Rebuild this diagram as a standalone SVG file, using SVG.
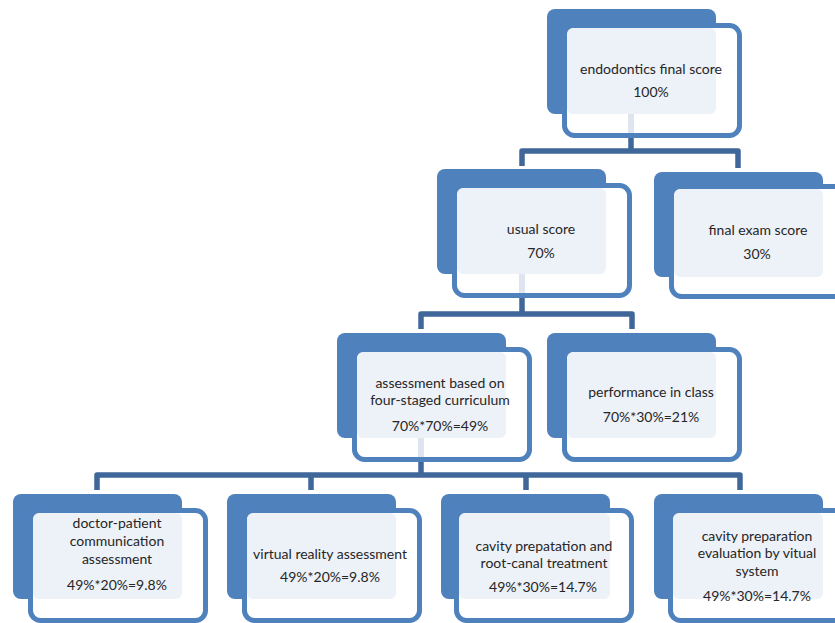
<svg xmlns="http://www.w3.org/2000/svg" width="835" height="623" viewBox="0 0 835 623">
<style>
.bk{fill:#4F81BD}
.ol{fill:#FFFFFF;stroke:#4F81BD;stroke-width:5}
.pl{fill:#EDF1F8}
.t{font-family:Lato,"Liberation Sans",sans-serif;font-size:14px;fill:#262626;text-anchor:middle}
.cn{fill:none;stroke:#3F6799;stroke-width:5.5;stroke-linejoin:round;stroke-linecap:butt}
.st{stroke:#DEE5EF;stroke-width:6}
</style>
<rect width="835" height="623" fill="#FFFFFF"/>
<g id="connectors">
<path class="cn" d="M631,137 V151 M522,166 V151 H738 V168"/>
<path class="cn" d="M522,296 V314 M421,329 V314 H632 V329"/>
<path class="cn" d="M421,459 V475 M97,490 V475 H740 V490 M311,475 V490 M526,475 V490"/>
</g>
<g id="n-final">
<rect class="bk" x="547" y="9" width="169" height="105" rx="8"/>
<rect class="ol" x="564.5" y="25.5" width="175" height="110" rx="10"/>
<rect class="pl" x="567" y="28" width="149" height="86" rx="6"/>
<line class="st" x1="631" y1="114" x2="631" y2="133"/>
<text class="t" x="651" y="74">endodontics final score</text>
<text class="t" x="651" y="97">100%</text>
</g>
<g id="n-usual">
<rect class="bk" x="437" y="169" width="169" height="105" rx="8"/>
<rect class="ol" x="454.5" y="185.5" width="175" height="110" rx="10"/>
<rect class="pl" x="457" y="188" width="149" height="86" rx="6"/>
<line class="st" x1="522" y1="274" x2="522" y2="293"/>
<text class="t" x="541" y="234">usual score</text>
<text class="t" x="541" y="258">70%</text>
</g>
<g id="n-exam">
<rect class="bk" x="654" y="172" width="169" height="105" rx="8"/>
<rect class="ol" x="671.5" y="186.5" width="175" height="110" rx="10"/>
<rect class="pl" x="674" y="189" width="149" height="88" rx="6"/>
<text class="t" x="758" y="235">final exam score</text>
<text class="t" x="757" y="259">30%</text>
</g>
<g id="n-assess">
<rect class="bk" x="337" y="333" width="169" height="105" rx="8"/>
<rect class="ol" x="354.5" y="349.5" width="175" height="110" rx="10"/>
<rect class="pl" x="357" y="352" width="149" height="86" rx="6"/>
<line class="st" x1="421" y1="438" x2="421" y2="457"/>
<text class="t" x="440" y="388">assessment based on</text>
<text class="t" x="440" y="405">four-staged curriculum</text>
<text class="t" x="440" y="431">70%*70%=49%</text>
</g>
<g id="n-perf">
<rect class="bk" x="547" y="333" width="169" height="105" rx="8"/>
<rect class="ol" x="564.5" y="349.5" width="175" height="110" rx="10"/>
<rect class="pl" x="567" y="352" width="149" height="86" rx="6"/>
<text class="t" x="651" y="397">performance in class</text>
<text class="t" x="651" y="422">70%*30%=21%</text>
</g>
<g id="n-doctor">
<rect class="bk" x="13" y="494" width="169" height="105" rx="8"/>
<rect class="ol" x="30.5" y="510.5" width="175" height="110" rx="10"/>
<rect class="pl" x="33" y="513" width="149" height="86" rx="6"/>
<text class="t" x="117" y="528">doctor-patient</text>
<text class="t" x="117" y="546">communication</text>
<text class="t" x="117" y="564">assessment</text>
<text class="t" x="117" y="590">49%*20%=9.8%</text>
</g>
<g id="n-vr">
<rect class="bk" x="227" y="494" width="169" height="105" rx="8"/>
<rect class="ol" x="244.5" y="510.5" width="175" height="110" rx="10"/>
<rect class="pl" x="247" y="513" width="149" height="86" rx="6"/>
<text class="t" x="330" y="559">virtual reality assessment</text>
<text class="t" x="330" y="582">49%*20%=9.8%</text>
</g>
<g id="n-cavity">
<rect class="bk" x="441" y="494" width="169" height="105" rx="8"/>
<rect class="ol" x="456.5" y="510.5" width="175" height="110" rx="10"/>
<rect class="pl" x="459" y="513" width="151" height="86" rx="6"/>
<text class="t" x="544" y="551">cavity prepatation and</text>
<text class="t" x="544" y="568">root-canal treatment</text>
<text class="t" x="543" y="592">49%*30%=14.7%</text>
</g>
<g id="n-eval">
<rect class="bk" x="654" y="494" width="169" height="105" rx="8"/>
<rect class="ol" x="670.5" y="510.5" width="175" height="110" rx="10"/>
<rect class="pl" x="673" y="513" width="150" height="86" rx="6"/>
<text class="t" x="757" y="541">cavity preparation</text>
<text class="t" x="757" y="558">evaluation by vitual</text>
<text class="t" x="757" y="576">system</text>
<text class="t" x="757" y="601">49%*30%=14.7%</text>
</g>
</svg>
